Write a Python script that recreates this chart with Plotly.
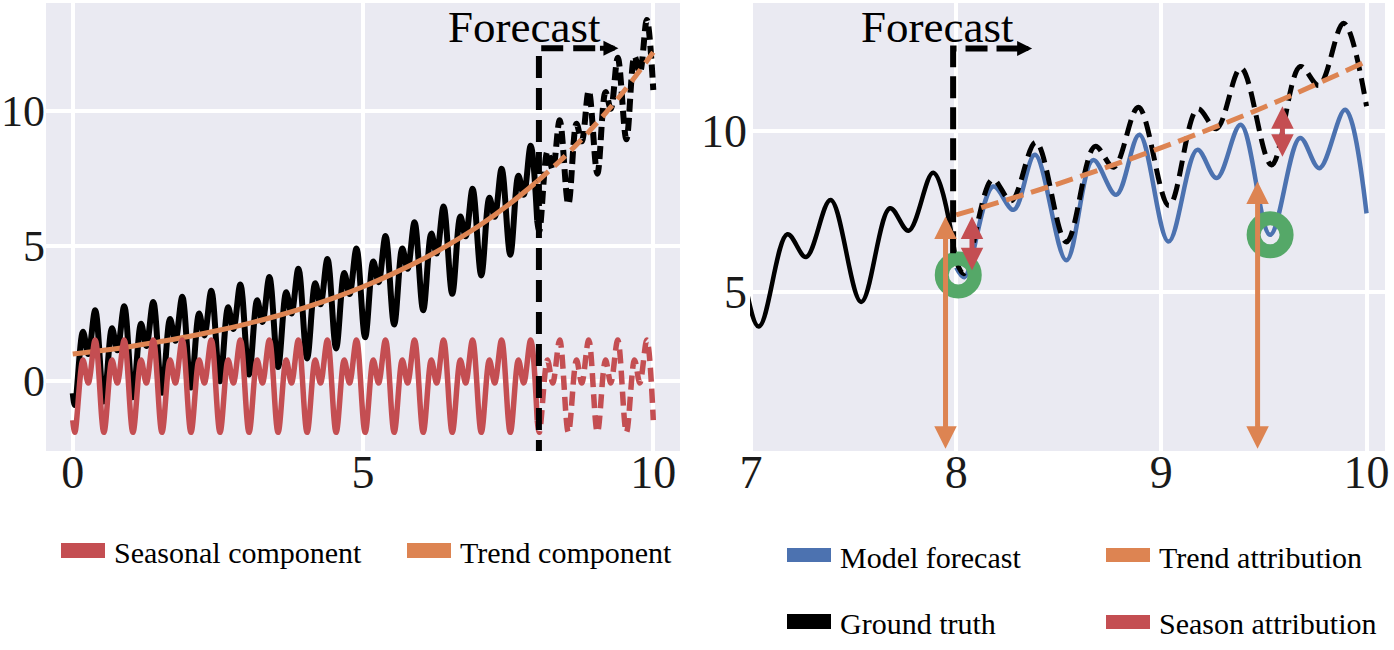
import plotly.graph_objects as go

# ---------------- data ----------------
t_pts = [0.0,
         0.037, 0.177, 0.268, 0.388, 0.537, 0.677, 0.768, 0.888,
         1.037, 1.177, 1.268, 1.388, 1.537, 1.677, 1.768, 1.888,
         2.037, 2.177, 2.268, 2.388, 2.537, 2.677, 2.768, 2.888,
         3.037, 3.177, 3.268, 3.388, 3.537, 3.677, 3.768, 3.888,
         4.037, 4.177, 4.268, 4.388, 4.537, 4.677, 4.768, 4.888,
         5.037, 5.177, 5.268, 5.388, 5.537, 5.677, 5.768, 5.888,
         6.037, 6.177, 6.268, 6.388, 6.537, 6.677, 6.768, 6.888,
         7.037, 7.177, 7.268, 7.388, 7.537, 7.677, 7.768, 7.888,
         8.0,
         8.037, 8.177, 8.268, 8.388, 8.537, 8.677, 8.768, 8.888,
         9.037, 9.177, 9.268, 9.388, 9.537, 9.677, 9.768, 9.888,
         10.0]

seasonal_vals = [-1.45,
                 -1.9, 0.78, -0.07, 1.52, -1.9, 0.78, -0.07, 1.52,
                 -1.9, 0.78, -0.07, 1.52, -1.9, 0.78, -0.07, 1.52,
                 -1.9, 0.78, -0.07, 1.52, -1.9, 0.78, -0.07, 1.52,
                 -1.9, 0.78, -0.07, 1.52, -1.9, 0.78, -0.07, 1.52,
                 -1.9, 0.78, -0.07, 1.52, -1.9, 0.78, -0.07, 1.52,
                 -1.9, 0.78, -0.07, 1.52, -1.9, 0.78, -0.07, 1.52,
                 -1.9, 0.78, -0.07, 1.52, -1.9, 0.78, -0.07, 1.52,
                 -1.9, 0.78, -0.07, 1.52, -1.9, 0.78, -0.07, 1.52,
                 -1.45,
                 -1.9, 0.78, -0.07, 1.52, -1.9, 0.78, -0.07, 1.52,
                 -1.9, 0.78, -0.07, 1.52, -1.9, 0.78, -0.07, 1.52,
                 -1.45]

truth_vals = [-0.45,
              -0.89, 1.83, 1.00, 2.62, -0.76, 1.96, 1.14, 2.77,
              -0.60, 2.12, 1.30, 2.93, -0.43, 2.30, 1.49, 3.12,
              -0.24, 2.50, 1.69, 3.34, -0.01, 2.73, 1.93, 3.58,
              0.24, 2.99, 2.19, 3.85, 0.52, 3.29, 2.50, 4.16,
              0.84, 3.62, 2.84, 4.52, 1.21, 4.00, 3.22, 4.91,
              1.62, 4.43, 3.66, 5.37, 2.09, 4.91, 4.16, 5.88,
              2.62, 5.46, 4.72, 6.46, 3.23, 6.09, 5.36, 7.12,
              3.91, 6.79, 6.08, 7.86, 4.68, 7.60, 6.90, 8.71,
              5.94,
              5.56, 8.50, 7.83, 9.66, 6.55, 9.53, 8.88, 10.75,
              7.68, 10.70, 10.08, 11.97, 8.95, 12.02, 11.43, 13.37,
              10.78]

trend_t = [0.0, 0.5, 1.0, 1.5, 2.0, 2.5, 3.0, 3.5, 4.0, 4.5, 5.0,
           5.5, 6.0, 6.5, 7.0, 7.5, 8.0, 8.5, 9.0, 9.5, 10.0]
trend_vals = [1.00, 1.13, 1.28, 1.46, 1.65, 1.87, 2.12, 2.40, 2.72, 3.08, 3.49,
              3.96, 4.48, 5.08, 5.75, 6.52, 7.39, 8.37, 9.49, 10.75, 12.18]

fc_t = [8.0, 8.04, 8.18, 8.28, 8.384, 8.537, 8.667, 8.78, 8.893, 9.035,
        9.175, 9.27, 9.387, 9.53, 9.676, 9.77, 9.896, 10.0]
forecast_vals = [5.75, 5.45, 8.28, 7.55, 9.27, 5.98, 9.10, 8.02, 9.89, 6.56,
                 9.42, 8.54, 10.20, 6.77, 9.79, 8.85, 10.67, 7.44]

circle_x = [8.01, 9.53]
circle_y = [5.52, 6.77]

trend_attr_x = [7.948, 9.469]
trend_attr_lo = [0.05, 0.05]
trend_attr_hi = [7.34, 8.43]

season_attr_x = [8.077, 9.59]
season_attr_lo = [5.62, 9.16]
season_attr_hi = [7.34, 10.78]

FC_START = 8.0

# ---------------- styling ----------------
BLUE, ORANGE, GREEN, RED = "#4C72B0", "#DD8452", "#55A868", "#C44E52"
FONT = "Liberation Serif"
W, H = 1394, 650


def split(xs, ys, cut):
    a = [(x, y) for x, y in zip(xs, ys) if x <= cut]
    b = [(x, y) for x, y in zip(xs, ys) if x >= cut]
    return ([p[0] for p in a], [p[1] for p in a]), ([p[0] for p in b], [p[1] for p in b])


(tr_sx, tr_sy), (tr_dx, tr_dy) = split(t_pts, truth_vals, FC_START)
(se_sx, se_sy), (se_dx, se_dy) = split(t_pts, seasonal_vals, FC_START)
(tn_sx, tn_sy), (tn_dx, tn_dy) = split(trend_t, trend_vals, FC_START)

fig = go.Figure()


def line(x, y, color, width, dash="solid", xa="x", ya="y"):
    fig.add_trace(go.Scatter(x=x, y=y, mode="lines", xaxis=xa, yaxis=ya,
                             line=dict(color=color, width=width, dash=dash,
                                       shape="spline", smoothing=1),
                             showlegend=False, hoverinfo="skip"))


# left panel
line(tr_sx, tr_sy, "black", 6)
line(tr_dx, tr_dy, "black", 6, "13px,6px")
line(tn_sx, tn_sy, ORANGE, 5)
line(tn_dx, tn_dy, ORANGE, 5, "15px,8px")
line(se_sx, se_sy, RED, 5.5)
line(se_dx, se_dy, RED, 5.5, "14px,7px")

# right panel
line(fc_t, forecast_vals, BLUE, 4.5, xa="x2", ya="y2")
line(tr_sx, tr_sy, "black", 4.5, xa="x2", ya="y2")
line(tr_dx, tr_dy, "black", 5, "16px,8px", xa="x2", ya="y2")
line(tn_dx, tn_dy, ORANGE, 5, "18px,8px", xa="x2", ya="y2")

fig.add_trace(go.Scatter(x=circle_x, y=circle_y, mode="markers", xaxis="x2", yaxis="y2",
                         marker=dict(symbol="circle-open", size=33, color=GREEN,
                                     line=dict(color=GREEN, width=14)),
                         showlegend=False, hoverinfo="skip"))

annotations = []
shapes = []

# attribution arrows
for xv, lo, hi in zip(trend_attr_x, trend_attr_lo, trend_attr_hi):
    annotations.append(dict(x=xv, y=hi, ax=xv, ay=lo, xref="x2", yref="y2", axref="x2", ayref="y2",
                            text="", showarrow=True, arrowside="end+start",
                            arrowhead=2, startarrowhead=2, arrowwidth=5,
                            arrowsize=0.9, startarrowsize=0.9, arrowcolor=ORANGE))
for xv, lo, hi in zip(season_attr_x, season_attr_lo, season_attr_hi):
    annotations.append(dict(x=xv, y=hi, ax=xv, ay=lo, xref="x2", yref="y2", axref="x2", ayref="y2",
                            text="", showarrow=True, arrowside="end+start",
                            arrowhead=2, startarrowhead=2, arrowwidth=5,
                            arrowsize=0.9, startarrowsize=0.9, arrowcolor=RED))

# forecast markers (L-shaped dashed arrow + label)
shapes.append(dict(type="path", xref="x", yref="y",
                   path="M 8.03,-3 L 8.03,12.32 L 9.30,12.32",
                   line=dict(color="black", width=6, dash="22px,10px")))
annotations.append(dict(x=9.40, y=12.32, ax=-20, ay=0, xref="x", yref="y", text="",
                        showarrow=True, arrowhead=2, arrowwidth=5, arrowsize=0.6,
                        arrowcolor="black"))
annotations.append(dict(x=7.79, y=1.0, xref="x", yref="paper", text="Forecast",
                        showarrow=False, xanchor="center", yanchor="top",
                        font=dict(family=FONT, size=45, color="black")))

shapes.append(dict(type="path", xref="x2", yref="y2",
                   path="M 7.985,6.2 L 7.985,12.58 L 8.30,12.58",
                   line=dict(color="black", width=6, dash="22px,9px")))
annotations.append(dict(x=8.37, y=12.58, ax=-20, ay=0, xref="x2", yref="y2", text="",
                        showarrow=True, arrowhead=2, arrowwidth=5, arrowsize=0.6,
                        arrowcolor="black"))
annotations.append(dict(x=7.91, y=1.0, xref="x2", yref="paper", text="Forecast",
                        showarrow=False, xanchor="center", yanchor="top",
                        font=dict(family=FONT, size=45, color="black")))

# legends (drawn manually in pixel layout)
legend_items = [
    ("Seasonal component", RED, 61, 543, 558, 552),
    ("Trend component", ORANGE, 407, 543, 558, 552),
    ("Model forecast", BLUE, 787, 548, 562, 557),
    ("Trend attribution", ORANGE, 1106, 548, 562, 557),
    ("Ground truth", "black", 787, 614, 629, 623),
    ("Season attribution", RED, 1106, 615, 629, 623),
]
for label, col, x0, y0, y1, yc in legend_items:
    shapes.append(dict(type="rect", xref="paper", yref="paper",
                       x0=x0 / W, x1=(x0 + 44) / W, y0=1 - y1 / H, y1=1 - y0 / H,
                       fillcolor=col, line=dict(width=0)))
    annotations.append(dict(x=(x0 + 51) / W, y=1 - yc / H, xref="paper", yref="paper",
                            text=label, showarrow=False, xanchor="left", yanchor="middle",
                            font=dict(family=FONT, size=30, color="black")))

axis_common = dict(showgrid=True, gridcolor="white", gridwidth=4, zeroline=False,
                   showline=False, ticks="", automargin=False)
tick_font = dict(family=FONT, size=46, color="#1a1a1a")

fig.update_layout(
    width=W, height=H, autosize=False,
    margin=dict(l=0, r=0, t=0, b=0, pad=0),
    paper_bgcolor="white", plot_bgcolor="#EAEAF2",
    showlegend=False,
    xaxis=dict(domain=[46 / W, 680 / W], range=[-0.46, 10.46], tickvals=[0, 5, 10],
               anchor="y", ticklabelstandoff=-10, tickfont=tick_font, **axis_common),
    yaxis=dict(domain=[1 - 451 / H, 1 - 3 / H], range=[-2.59, 14.0], tickvals=[0, 5, 10],
               anchor="x", ticklabelstandoff=0,
               tickfont=dict(family=FONT, size=44, color="#1a1a1a"), **axis_common),
    xaxis2=dict(domain=[750 / W, 1385 / W], range=[6.995, 10.09], tickvals=[7, 8, 9, 10],
                anchor="y2", ticklabelstandoff=-10, tickfont=tick_font, **axis_common),
    yaxis2=dict(domain=[1 - 451 / H, 1 - 3 / H], range=[0.03, 14.0], tickvals=[5, 10],
                anchor="x2", ticklabelstandoff=2, tickfont=tick_font, **axis_common),
    shapes=shapes,
    annotations=annotations,
)

fig.write_html("out.html")
